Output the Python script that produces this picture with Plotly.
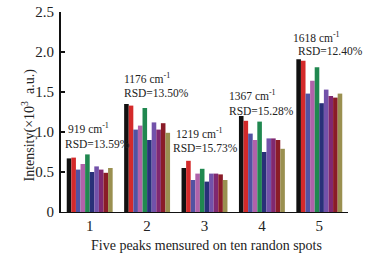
import plotly.graph_objects as go

categories = ["1", "2", "3", "4", "5"]
spot1 = [0.67, 1.35, 0.55, 1.20, 1.91]
spot2 = [0.68, 1.33, 0.64, 1.14, 1.89]
spot3 = [0.53, 1.03, 0.40, 0.98, 1.48]
spot4 = [0.60, 1.08, 0.48, 0.90, 1.64]
spot5 = [0.72, 1.30, 0.54, 1.13, 1.81]
spot6 = [0.50, 0.90, 0.38, 0.75, 1.36]
spot7 = [0.57, 1.12, 0.48, 0.92, 1.53]
spot8 = [0.53, 1.03, 0.48, 0.92, 1.45]
spot9 = [0.49, 1.11, 0.47, 0.90, 1.43]
spot10 = [0.55, 0.99, 0.40, 0.79, 1.48]
series = [spot1, spot2, spot3, spot4, spot5, spot6, spot7, spot8, spot9, spot10]
colors = ["#111111", "#d42a2a", "#5252a2", "#b062aa", "#208850",
          "#283078", "#7252aa", "#802870", "#8a1c28", "#9a9050"]

peaks = ["919", "1176", "1219", "1367", "1618"]
rsd = ["13.59%", "13.50%", "15.73%", "15.28%", "12.40%"]

fig = go.Figure()
for vals, c in zip(series, colors):
    fig.add_trace(go.Bar(x=categories, y=vals, marker=dict(color=c, line=dict(width=0)),
                         showlegend=False))

font = "Liberation Serif, Times New Roman, serif"
L, R, T, B = 61, 39, 12, 55
W, H = 387, 267
pw = W - L - R
ph = H - T - B

def px2x(px):
    return (px - L) / pw

def py2y(py):
    return (H - B - py) / ph

# annotation pixel positions: (left x, center y)
peak_pos = [(66, 128), (122, 78), (174, 133), (227, 95), (291, 37)]
rsd_pos = [(63, 144), (122, 93), (171, 148), (227, 111), (296, 51)]
for i in range(5):
    px, py = peak_pos[i]
    fig.add_annotation(x=px2x(px), xref="paper", y=py2y(py), yref="paper",
                       text=f"{peaks[i]} cm<sup>-1</sup>", showarrow=False, xanchor="left",
                       yanchor="middle", font=dict(family=font, size=11.5, color="#222"))
    rx, ry = rsd_pos[i]
    fig.add_annotation(x=px2x(rx), xref="paper", y=py2y(ry), yref="paper",
                       text=f"RSD={rsd[i]}", showarrow=False, xanchor="left",
                       yanchor="middle", font=dict(family=font, size=11.5, color="#222"))

fig.add_annotation(x=px2x(18), xref="paper", y=py2y(125), yref="paper",
                   text="Intensity(×10<sup>3</sup>  a.u.)", textangle=-90, showarrow=False,
                   font=dict(family=font, size=14, color="#222"))
fig.add_annotation(x=px2x(206), xref="paper", y=py2y(245), yref="paper",
                   text="Five peaks mensured on ten randon spots", showarrow=False,
                   xanchor="center", yanchor="middle",
                   font=dict(family=font, size=14, color="#222"))

fig.update_layout(
    width=W, height=H,
    margin=dict(l=L, r=R, t=T, b=B),
    paper_bgcolor="white", plot_bgcolor="white",
    barmode="group", bargap=0.2, bargroupgap=0,
    font=dict(family=font, size=14, color="#222"),
    xaxis=dict(showline=True, linecolor="#111", linewidth=1.2, ticks="",
               showgrid=False, zeroline=False, automargin=False,
               ticklabelstandoff=0,
               tickfont=dict(family=font, size=15)),
    yaxis=dict(range=[0, 2.5], tickvals=[0, 0.5, 1.0, 1.5, 2.0, 2.5],
               ticktext=["0", "0.5", "1.0", "1.5", "2.0", "2.5"],
               showline=True, linecolor="#111", linewidth=2.2, ticks="inside",
               ticklen=4, tickwidth=2, tickcolor="#111", automargin=False,
               showgrid=False, zeroline=False, ticklabelstandoff=2,
               tickfont=dict(family=font, size=15)),
)

fig.write_html("out.html", config={"displayModeBar": False},
               post_script="document.body.style.margin='0';document.body.style.padding='0';")
